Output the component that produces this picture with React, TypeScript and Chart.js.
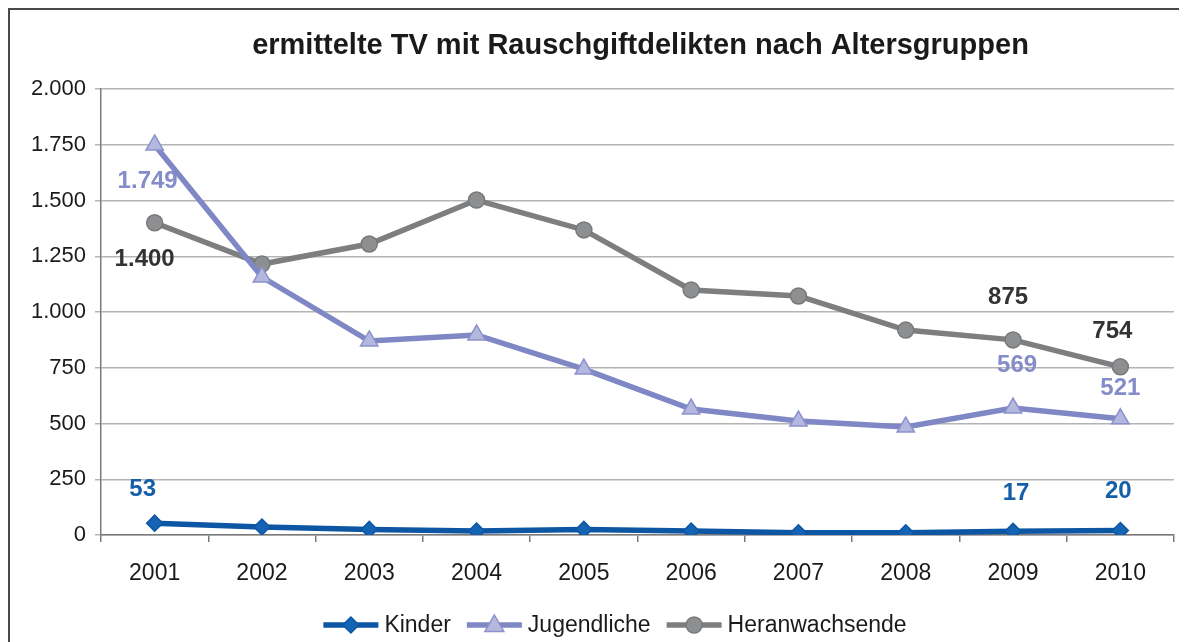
import React, { useEffect, useRef } from "react";
import { Chart, registerables } from "chart.js";

Chart.register(...registerables);

const TITLE = "ermittelte TV mit Rauschgiftdelikten nach Altersgruppen";
const years = ["2001", "2002", "2003", "2004", "2005", "2006", "2007", "2008", "2009", "2010"];
const kinder = [53, 36, 25, 18, 25, 18, 10, 10, 17, 20];
const jugendliche = [1749, 1157, 870, 897, 744, 565, 511, 484, 569, 521];
const heranwachsende = [1400, 1215, 1305, 1502, 1368, 1099, 1072, 919, 875, 754];
const yTicks = [0, 250, 500, 750, 1000, 1250, 1500, 1750, 2000];

const seriesNames = ["Kinder", "Jugendliche", "Heranwachsende"];
const lineColors = ["#0d56a3", "#7f87c5", "#7d7e80"];
const pointFills = ["#1563b3", "#b5b8de", "#8e8f91"];
const pointBorders = ["#0d56a3", "#8a91cc", "#78797b"];
const pointStyles = ["rectRot", "triangle", "circle"];
const labelColors = ["#155ea8", "#858cca", "#333333"];

// which points get a value label, and the label's offset from the point
const valueLabels = [
  { ds: 0, i: 0, dx: -12, dy: -34 },
  { ds: 0, i: 8, dx: 3, dy: -38 },
  { ds: 0, i: 9, dx: -2, dy: -39 },
  { ds: 1, i: 0, dx: -7, dy: 36 },
  { ds: 1, i: 8, dx: 4, dy: -43 },
  { ds: 1, i: 9, dx: 0, dy: -30 },
  { ds: 2, i: 0, dx: -10, dy: 37 },
  { ds: 2, i: 8, dx: -5, dy: -43 },
  { ds: 2, i: 9, dx: -8, dy: -35 },
];

const FONT = "'Liberation Sans', Arial, sans-serif";

const fmt = (v: number) => {
  const s = Math.round(v).toString();
  return s.replace(/\B(?=(\d{3})+(?!\d))/g, ".");
};

const drawMarker = (ctx: CanvasRenderingContext2D, style: string, x: number, y: number, r: number, fill: string, stroke: string) => {
  ctx.save();
  ctx.fillStyle = fill;
  ctx.strokeStyle = stroke;
  ctx.lineWidth = 1.5;
  ctx.beginPath();
  if (style === "rectRot") {
    ctx.moveTo(x, y - r);
    ctx.lineTo(x + r, y);
    ctx.lineTo(x, y + r);
    ctx.lineTo(x - r, y);
    ctx.closePath();
  } else if (style === "triangle") {
    ctx.moveTo(x, y - r);
    ctx.lineTo(x + r * 0.95, y + r * 0.65);
    ctx.lineTo(x - r * 0.95, y + r * 0.65);
    ctx.closePath();
  } else {
    ctx.arc(x, y, r, 0, Math.PI * 2);
  }
  ctx.fill();
  ctx.stroke();
  ctx.restore();
};

const overlayPlugin = {
  id: "overlay",
  afterDatasetsDraw(chart: any) {
    const ctx = chart.ctx as CanvasRenderingContext2D;
    const area = chart.chartArea;
    ctx.save();
    // title
    ctx.fillStyle = "#1a1a1a";
    ctx.font = `bold 29px ${FONT}`;
    ctx.textAlign = "center";
    ctx.textBaseline = "middle";
    ctx.fillText(TITLE, (area.left + area.right) / 2 + 3, 36);

    // value labels
    ctx.font = `bold 24px ${FONT}`;
    valueLabels.forEach((l) => {
      const meta = chart.getDatasetMeta(l.ds);
      const pt = meta.data[l.i];
      const v = chart.data.datasets[l.ds].data[l.i] as number;
      ctx.fillStyle = labelColors[l.ds];
      ctx.fillText(fmt(v), pt.x + l.dx, pt.y + l.dy);
    });

    // legend
    ctx.font = `23px ${FONT}`;
    ctx.textAlign = "left";
    const lineW = 55;
    const gapText = 6;
    const gapItem = 16;
    const widths = seriesNames.map((n) => lineW + gapText + ctx.measureText(n).width);
    const total = widths.reduce((a, b) => a + b, 0) + gapItem * (seriesNames.length - 1);
    let x = 605 - total / 2;
    const y = 615;
    seriesNames.forEach((n, k) => {
      ctx.strokeStyle = lineColors[k];
      ctx.lineWidth = 5.5;
      ctx.beginPath();
      ctx.moveTo(x, y);
      ctx.lineTo(x + lineW, y);
      ctx.stroke();
      drawMarker(ctx, pointStyles[k], x + lineW / 2, y, k === 1 ? 10 : 8, pointFills[k], pointBorders[k]);
      ctx.fillStyle = "#1a1a1a";
      ctx.fillText(n, x + lineW + gapText, y + 1);
      x += widths[k] + gapItem;
    });
    ctx.restore();
  },
};

export default function App() {
  const ref = useRef<HTMLCanvasElement | null>(null);
  useEffect(() => {
    if (!ref.current) return;
    const data = [kinder, jugendliche, heranwachsende];
    const chart = new Chart(ref.current, {
      type: "line",
      data: {
        labels: years,
        datasets: data.map((d, k) => ({
          label: seriesNames[k],
          data: d,
          borderColor: lineColors[k],
          borderWidth: 5.5,
          backgroundColor: pointFills[k],
          pointBackgroundColor: pointFills[k],
          pointBorderColor: pointBorders[k],
          pointBorderWidth: 1.5,
          pointStyle: pointStyles[k] as any,
          pointRadius: k === 1 ? 10 : 8,
          tension: 0,
          fill: false,
        })),
      },
      options: {
        animation: false,
        responsive: false,
        maintainAspectRatio: false,
        layout: { padding: { left: 0, right: 13, top: 79, bottom: 47 } },
        plugins: {
          legend: { display: false },
          title: { display: false },
          tooltip: { enabled: false },
        },
        scales: {
          x: {
            offset: true,
            grid: {
              offset: true,
              drawOnChartArea: false,
              drawTicks: true,
              tickLength: 7,
              color: "#7a7a7a",
              lineWidth: 1.5,
            },
            border: { color: "#7a7a7a", width: 1.5 },
            ticks: {
              color: "#1a1a1a",
              font: { family: FONT, size: 23 },
              padding: 18,
              maxRotation: 0,
            },
            afterFit: (s: any) => {
              s.height = 60;
            },
          },
          y: {
            min: 0,
            max: 2000,
            afterBuildTicks: (s: any) => {
              s.ticks = yTicks.map((v) => ({ value: v }));
            },
            grid: {
              color: "#b4b4b4",
              lineWidth: 1.5,
              tickLength: 6,
              drawTicks: true,
            },
            border: { color: "#7a7a7a", width: 1.5 },
            ticks: {
              color: "#1a1a1a",
              font: { family: FONT, size: 22 },
              padding: 9,
              callback: (v: any) => fmt(Number(v)),
            },
            afterFit: (s: any) => {
              s.width = 91;
            },
          },
        },
      },
      plugins: [overlayPlugin],
    });
    return () => chart.destroy();
  }, []);

  return (
    <div
      style={{
        position: "relative",
        width: 1179,
        height: 634,
        borderTop: "2px solid #4a4a4a",
        borderLeft: "2px solid #4a4a4a",
        background: "#fff",
      }}
    >
      <canvas ref={ref} width={1177} height={632} style={{ display: "block", width: 1177, height: 632 }} />
    </div>
  );
}
